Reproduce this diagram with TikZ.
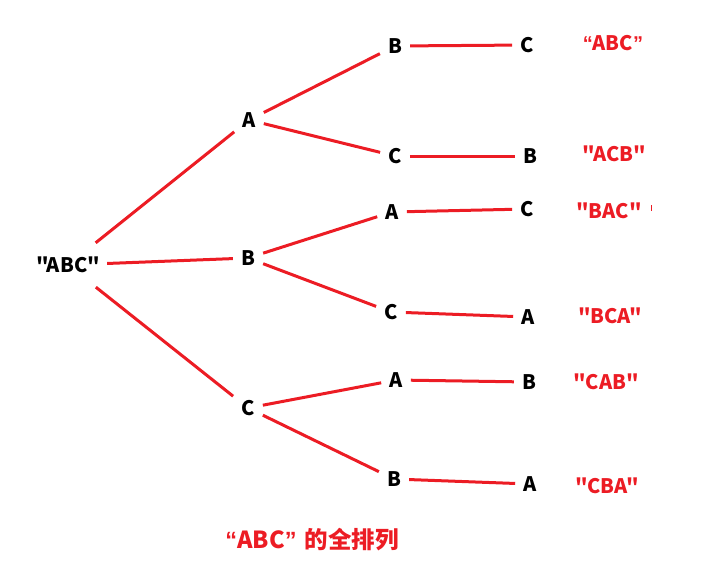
\documentclass[tikz,border=0pt]{standalone}
\usepackage{fontspec}
\setmainfont{Noto Sans CJK SC}[Ligatures=TeXOff]
\newfontfamily\lat{Liberation Sans}[Ligatures=TeXOff]
\newcommand\myLq{{\lat“}}
\newcommand\myRq{{\lat”}}
\definecolor{lred}{RGB}{236,28,36}
\begin{document}
\begin{tikzpicture}[x=1pt,y=-1pt,
  lbl/.style={font=\fontsize{20}{22}\selectfont\bfseries, inner sep=8pt},
  res/.style={font=\fontsize{20}{22}\selectfont\bfseries, text=lred},
  edge/.style={draw=lred, line width=3pt}]
\useasboundingbox (0,0) rectangle (718,560);
% level 0
\node[lbl, inner xsep=7pt, inner ysep=14pt] (r) at (68,265) {"ABC"};
% level 1
\node[lbl] (a1) at (249,120) {A};
\node[lbl] (b1) at (248,258) {B};
\node[lbl] (c1) at (248,408) {C};
% level 2
\node[lbl] (ab) at (395,46) {B};
\node[lbl] (ac) at (395,156) {C};
\node[lbl] (ba) at (392,212) {A};
\node[lbl] (bc) at (391,312) {C};
\node[lbl] (ca) at (396,380) {A};
\node[lbl] (cb) at (394,479) {B};
% level 3
\node[lbl] (abc) at (527,45) {C};
\node[lbl] (acb) at (530,156) {B};
\node[lbl] (bac) at (527,209) {C};
\node[lbl] (bca) at (528,317) {A};
\node[lbl] (cab) at (529,382) {B};
\node[lbl] (cba) at (530,484) {A};
% results
\node[res] (t1) at (613,43) {\myLq ABC\myRq};
\node[res] (t2) at (614,154) {"ACB"};
\node[res] (t3) at (609,211) {"BAC"};
\node[res] (t4) at (610,316) {"BCA"};
\node[res] (t5) at (606,382) {"CAB"};
\node[res] (t6) at (607,486) {"CBA"};
\draw[lred, line width=0.8pt] (651,205) -- (651,211);
% caption
\node[text=lred, font=\fontsize{23.5}{26}\selectfont\bfseries] (cap) at (312,540) {\myLq ABC\myRq\hspace{8pt}的全排列};
% edges
\path[edge] (r) -- (a1);
\path[edge] (r) -- (b1);
\path[edge] (r) -- (c1);
\path[edge] (a1) -- (ab);
\path[edge] (a1) -- (ac);
\path[edge] (b1) -- (ba);
\path[edge] (b1) -- (bc);
\path[edge] (c1) -- (ca);
\path[edge] (c1) -- (cb);
\path[edge] (ab) -- (abc);
\path[edge] (ac) -- (acb);
\path[edge] (ba) -- (bac);
\path[edge] (bc) -- (bca);
\path[edge] (ca) -- (cab);
\path[edge] (cb) -- (cba);
\end{tikzpicture}
\end{document}
